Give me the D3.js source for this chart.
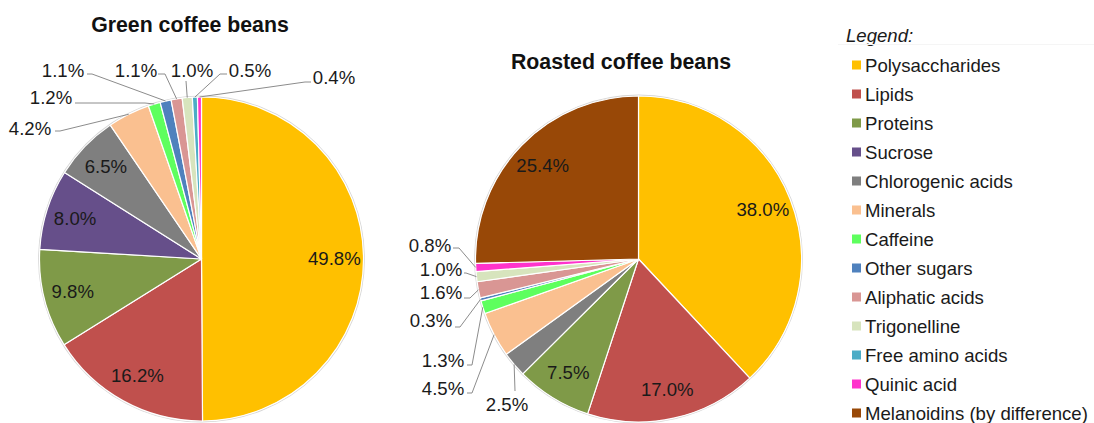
<!DOCTYPE html>
<html>
<head>
<meta charset="utf-8">
<script src="https://cdn.jsdelivr.net/npm/d3@7"></script>
<style>
  html, body { margin: 0; padding: 0; background: #fff; }
  svg { display: block; font-family: "Liberation Sans", Arial, sans-serif; }
</style>
</head>
<body>
<svg id="chart" width="1094" height="423"></svg>
<script>
// Coffee bean composition, % of dry matter
const categories = [
  "Polysaccharides", "Lipids", "Proteins", "Sucrose", "Chlorogenic acids",
  "Minerals", "Caffeine", "Other sugars", "Aliphatic acids", "Trigonelline",
  "Free amino acids", "Quinic acid", "Melanoidins (by difference)"
];
const greenValues   = [49.8, 16.2, 9.8, 8.0, 6.5, 4.2, 1.2, 1.1, 1.1, 1.0, 0.5, 0.4, 0];
const roastedValues = [38.0, 17.0, 7.5, 0, 2.5, 4.5, 1.3, 0.3, 1.6, 1.0, 0, 0.8, 25.4];
const colors = [
  "#FFC000", "#C0504D", "#7F9A48", "#664F8A", "#7F7F7F",
  "#FAC090", "#5EFF5E", "#4F81BD", "#D99694", "#D7E4BD",
  "#4BACC6", "#FF33CC", "#984807"
];
const titles = ["Green coffee beans", "Roasted coffee beans"];

// Callout placement for the thin slices: label centre, elbow, end of leader at the label
const greenCallouts = {
  "Minerals":         { label: [30, 128], knee: [60, 131], end: [55, 131] },
  "Caffeine":         { label: [51, 97],  knee: [145, 103], end: [75, 103] },
  "Other sugars":     { label: [63, 70],  knee: [92, 74],  end: [87, 74] },
  "Aliphatic acids":  { label: [136, 70], knee: [165, 74], end: [158, 74] },
  "Trigonelline":     { label: [192, 70], knee: [186, 81], end: [186, 81] },
  "Free amino acids": { label: [250, 70], knee: [220, 74], end: [227, 74] },
  "Quinic acid":      { label: [334, 77], knee: [305, 82], end: [311, 82] }
};
const roastedCallouts = {
  "Quinic acid":       { label: [430, 245], knee: [459, 248], end: [453, 248] },
  "Trigonelline":      { label: [441, 269], knee: [466, 273], end: [464, 273] },
  "Aliphatic acids":   { label: [441, 292], knee: [470, 298], end: [464, 298] },
  "Other sugars":      { label: [431, 320], knee: [460, 327], end: [455, 327] },
  "Caffeine":          { label: [443, 360], knee: [472, 365], end: [467, 365] },
  "Minerals":          { label: [443, 388], knee: [472, 393], end: [467, 393] },
  "Chlorogenic acids": { label: [507, 404], knee: [515, 391], end: [515, 391] }
};

const FONT = 18.6;
const svg = d3.select("#chart");
const color = d3.scaleOrdinal().domain(categories).range(colors);
const fmt = d => d3.format(".1f")(d) + "%";

const pie = d3.pie().sort(null).value(d => d.value);

function drawPie(values, cx, cy, r, title, titlePos, callouts) {
  const data = categories.map((c, i) => ({ name: c, value: values[i] }));
  const arcs = pie(data).filter(a => a.data.value > 0);
  const g = svg.append("g").attr("transform", `translate(${cx},${cy})`);
  const arc = d3.arc().innerRadius(0).outerRadius(r);
  const labelArc = d3.arc().innerRadius(r * 0.82).outerRadius(r * 0.82);
  const edgeArc = d3.arc().innerRadius(r).outerRadius(r);

  // faint rim around the pie
  g.append("circle").attr("r", r + 0.8).attr("fill", "none")
    .attr("stroke", "#d6d6d6").attr("stroke-width", 1.2);

  g.selectAll("path.slice").data(arcs).enter().append("path")
    .attr("class", "slice")
    .attr("d", arc)
    .attr("fill", d => color(d.data.name))
    .attr("stroke", "#fff").attr("stroke-width", 1.2).attr("stroke-linejoin", "round");

  // labels inside the large slices
  const inside = arcs.filter(a => !callouts[a.data.name]);
  g.selectAll("text.inner").data(inside).enter().append("text")
    .attr("class", "inner")
    .attr("transform", d => `translate(${labelArc.centroid(d)})`)
    .attr("text-anchor", "middle").attr("dy", "0.35em")
    .attr("font-size", FONT).attr("fill", "#1a1a1a")
    .text(d => fmt(d.data.value));

  // callouts with leader lines for the thin slices
  const outside = arcs.filter(a => callouts[a.data.name]);
  outside.forEach(a => {
    const c = callouts[a.data.name];
    const p = edgeArc.centroid(a);
    const start = [p[0] + cx, p[1] + cy];
    svg.append("polyline")
      .attr("points", [start, c.knee, c.end].map(q => q.join(",")).join(" "))
      .attr("fill", "none").attr("stroke", "#8c8c8c").attr("stroke-width", 1);
    svg.append("text")
      .attr("x", c.label[0]).attr("y", c.label[1])
      .attr("text-anchor", "middle").attr("dy", "0.35em")
      .attr("font-size", FONT).attr("fill", "#1a1a1a")
      .text(fmt(a.data.value));
  });

  svg.append("text")
    .attr("x", titlePos[0]).attr("y", titlePos[1])
    .attr("text-anchor", "middle").attr("dy", "0.35em")
    .attr("font-size", 21.3).attr("font-weight", "bold").attr("fill", "#111")
    .text(title);
}

drawPie(greenValues, 201.5, 259, 162, titles[0], [190, 25], greenCallouts);
drawPie(roastedValues, 638.5, 259, 163, titles[1], [621, 62], roastedCallouts);

// Legend
const legend = svg.append("g");
legend.append("text")
  .attr("x", 846).attr("y", 35).attr("dy", "0.35em")
  .attr("font-size", FONT).attr("font-style", "italic").attr("fill", "#1a1a1a")
  .text("Legend:");
legend.append("line")
  .attr("x1", 838).attr("x2", 1094).attr("y1", 44.5).attr("y2", 44.5)
  .attr("stroke", "#f5f5f5").attr("stroke-width", 1);

const rowY = d3.scalePoint().domain(categories).range([65, 413]);
const rows = legend.selectAll("g.row").data(categories).enter().append("g")
  .attr("class", "row")
  .attr("transform", d => `translate(0,${rowY(d)})`);
rows.append("rect")
  .attr("x", 852).attr("y", -4.5).attr("width", 9).attr("height", 9)
  .attr("fill", d => color(d));
rows.append("text")
  .attr("x", 865).attr("dy", "0.35em")
  .attr("font-size", FONT).attr("fill", "#1a1a1a")
  .text(d => d);
</script>
</body>
</html>
